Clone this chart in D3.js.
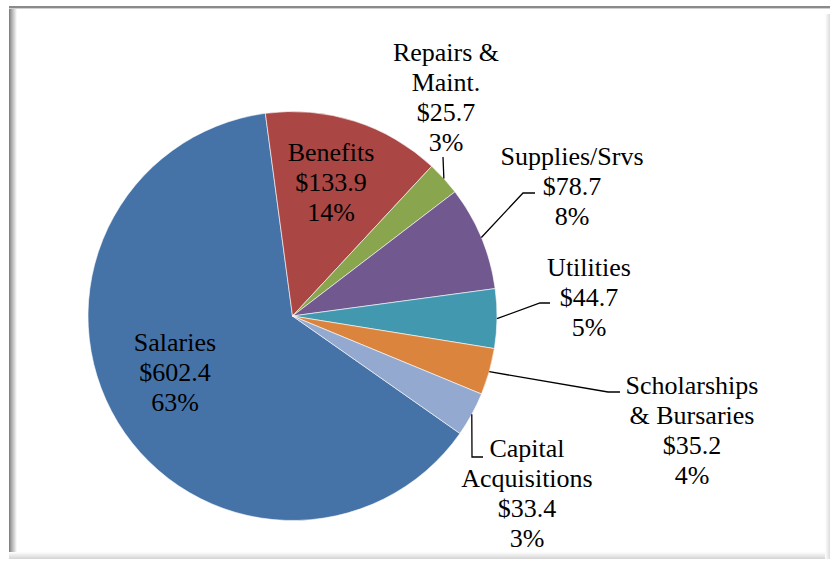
<!DOCTYPE html>
<html>
<head>
<meta charset="utf-8">
<script src="https://cdn.jsdelivr.net/npm/d3@7"></script>
<style>
  body { margin: 0; background: #fff; }
  svg { display: block; }
  .lbl { font-family: "Liberation Serif", "Times New Roman", Times, "DejaVu Serif", serif; }
</style>
</head>
<body>
<svg width="830" height="563"></svg>
<script>
// data
var categories = ["Salaries", "Benefits", "Repairs & Maint.", "Supplies/Srvs", "Utilities", "Scholarships & Bursaries", "Capital Acquisitions"];
var amounts = [602.4, 133.9, 25.7, 78.7, 44.7, 35.2, 33.4];
var percentLabels = ["63%", "14%", "3%", "8%", "5%", "4%", "3%"];
var nameLines = [["Salaries"], ["Benefits"], ["Repairs &", "Maint."], ["Supplies/Srvs"], ["Utilities"], ["Scholarships", "& Bursaries"], ["Capital", "Acquisitions"]];

var colors = ["#4572a7", "#aa4643", "#89a54e", "#71588f", "#4198af", "#db843d", "#93a9cf"];

// label placement (manual, like the original), leader elbows in page coords
var labelLayout = [
  {x: 175, y: 342},
  {x: 331, y: 152},
  {x: 446, y: 52, leader: [[443, 157]]},
  {x: 572, y: 156, leader: [[523, 193], [535, 193]]},
  {x: 589, y: 267, leader: [[540, 303], [550, 303]]},
  {x: 692, y: 385, leader: [[608, 392], [620, 392]]},
  {x: 527, y: 448, leader: [[472, 457], [483, 457]]}
];

var svg = d3.select("svg"),
    cx = 292.5, cy = 316, radius = 204.5,
    fontSize = 26, lineHeight = 30;

// chart frame with soft shadow edges
var defs = svg.append("defs");
var gl = defs.append("linearGradient").attr("id", "shadeL").attr("x1", 0).attr("x2", 1).attr("y1", 0).attr("y2", 0);
gl.append("stop").attr("offset", 0).attr("stop-color", "#7a7a7a");
gl.append("stop").attr("offset", 0.3).attr("stop-color", "#a8a8a8");
gl.append("stop").attr("offset", 1).attr("stop-color", "#ffffff");
var gb = defs.append("linearGradient").attr("id", "shadeB").attr("x1", 0).attr("x2", 0).attr("y1", 0).attr("y2", 1);
gb.append("stop").attr("offset", 0).attr("stop-color", "#ffffff");
gb.append("stop").attr("offset", 1).attr("stop-color", "#d4d4d4");
var gr = defs.append("linearGradient").attr("id", "shadeR").attr("x1", 0).attr("x2", 1).attr("y1", 0).attr("y2", 0);
gr.append("stop").attr("offset", 0).attr("stop-color", "#ffffff");
gr.append("stop").attr("offset", 1).attr("stop-color", "#dcdcdc");

svg.append("rect").attr("x", 9).attr("y", 7).attr("width", 821).attr("height", 552).attr("fill", "#fff");
svg.append("rect").attr("x", 9).attr("y", 7).attr("width", 8).attr("height", 552).attr("fill", "url(#shadeL)");
svg.append("rect").attr("x", 9).attr("y", 552).attr("width", 821).attr("height", 7).attr("fill", "url(#shadeB)");
svg.append("rect").attr("x", 825).attr("y", 14).attr("width", 5).attr("height", 545).attr("fill", "url(#shadeR)");
svg.append("rect").attr("x", 9).attr("y", 6).attr("width", 821).attr("height", 2).attr("fill", "#8a8a8a");
svg.append("rect").attr("x", 9).attr("y", 8).attr("width", 821).attr("height", 1).attr("fill", "#d0d0d0");

// pie
var pie = d3.pie().sort(null)
    .startAngle(125.05 * Math.PI / 180)
    .endAngle(125.05 * Math.PI / 180 + 2 * Math.PI);
var arcs = pie(amounts);
var arc = d3.arc().innerRadius(0).outerRadius(radius);

var g = svg.append("g").attr("transform", "translate(" + cx + "," + cy + ")");
g.selectAll("path.slice")
  .data(arcs)
  .enter().append("path")
    .attr("class", "slice")
    .attr("d", arc)
    .attr("fill", function(d, i) { return colors[i]; })
    .attr("stroke", "#fff")
    .attr("stroke-width", 0.6);

// leader lines from slice edge midpoint to the label
var line = d3.line();
arcs.forEach(function(d, i) {
  var lay = labelLayout[i];
  if (!lay.leader) return;
  var mid = (d.startAngle + d.endAngle) / 2;
  var p = d3.pointRadial(mid, radius);
  var pts = [[cx + p[0], cy + p[1]]].concat(lay.leader);
  svg.append("path")
    .attr("d", line(pts))
    .attr("fill", "none")
    .attr("stroke", "#000")
    .attr("stroke-width", 1.3);
});

// labels
arcs.forEach(function(d, i) {
  var lay = labelLayout[i];
  var lines = nameLines[i].concat(["$" + amounts[i].toFixed(1), percentLabels[i]]);
  var t = svg.append("text")
    .attr("class", "lbl")
    .attr("text-anchor", "middle")
    .attr("font-size", fontSize)
    .attr("fill", "#000");
  lines.forEach(function(s, k) {
    t.append("tspan")
      .attr("x", lay.x)
      .attr("y", lay.y + k * lineHeight + 8.6)
      .text(s);
  });
});
</script>
</body>
</html>
